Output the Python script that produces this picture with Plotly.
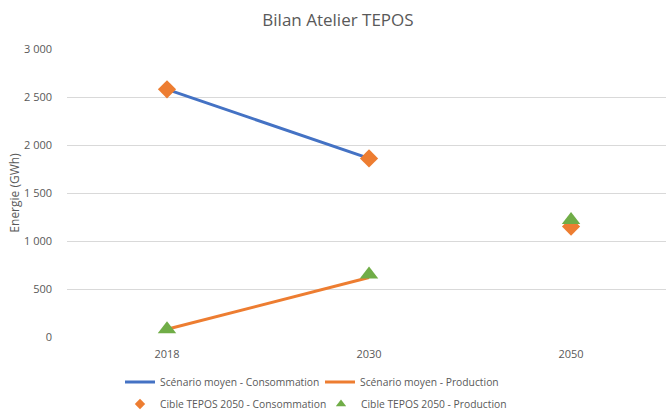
import plotly.graph_objects as go

years = ["2018", "2030", "2050"]
scen_conso = [2580, 1860, None]
scen_prod = [80, 620, None]
cible_conso = [2580, 1860, 1150]
cible_prod = [80, 650, 1220]

BLUE = "#4472C4"
ORANGE = "#ED7D31"
GREEN = "#70AD47"
GRAY = "#595959"
FONT = "Open Sans, Liberation Sans, sans-serif"

fig = go.Figure()
fig.add_trace(go.Scatter(x=years, y=scen_conso, mode="lines", name="Scénario moyen - Consommation",
                         line=dict(color=BLUE, width=3), legend="legend"))
fig.add_trace(go.Scatter(x=years, y=scen_prod, mode="lines", name="Scénario moyen - Production",
                         line=dict(color=ORANGE, width=3), legend="legend2"))
fig.add_trace(go.Scatter(x=years, y=cible_conso, mode="markers", name="Cible TEPOS 2050 - Consommation",
                         marker=dict(symbol="diamond", color=ORANGE, size=14), showlegend=False,
                         legendgroup="c"))
fig.add_trace(go.Scatter(x=years, y=cible_prod, mode="markers", name="Cible TEPOS 2050 - Production",
                         marker=dict(symbol="triangle-up", color=GREEN, size=16), showlegend=False,
                         legendgroup="p"))
# legend-only entries with Excel-like small symbols
fig.add_trace(go.Scatter(x=[None], y=[None], mode="markers", name="Cible TEPOS 2050 - Consommation",
                         marker=dict(symbol="diamond", color=ORANGE, size=8), legend="legend3",
                         legendgroup="c"))
fig.add_trace(go.Scatter(x=[None], y=[None], mode="markers", name="Cible TEPOS 2050 - Production",
                         marker=dict(symbol="triangle-up", color=GREEN, size=9), legend="legend4",
                         legendgroup="p"))

legend_common = dict(orientation="h", xanchor="left", yanchor="middle", bgcolor="rgba(0,0,0,0)",
                     font=dict(size=10.3, color=GRAY, family=FONT),
                     itemsizing="trace", xref="container", yref="container")

fig.update_layout(
    width=666, height=410,
    paper_bgcolor="white", plot_bgcolor="white",
    margin=dict(l=67, r=0, t=49, b=73, autoexpand=False),
    separators=", ",
    title=dict(text="Bilan Atelier TEPOS", x=338 / 666, xanchor="center", xref="container", y=1 - 20 / 410,
               yanchor="middle", font=dict(size=17, color=GRAY, family=FONT)),
    font=dict(family=FONT, color=GRAY, size=11),
    xaxis=dict(type="category", range=[-0.495, 2.47], showgrid=False, showline=False, ticks="",
               tickfont=dict(size=11, color=GRAY), zeroline=False, automargin=False,
               ticklabelstandoff=9),
    yaxis=dict(range=[0, 3000], dtick=500, tickformat=",d", showgrid=True, gridcolor="#D9D9D9", gridwidth=1,
               zeroline=False, showline=False, ticks="", tickfont=dict(size=11, color=GRAY),
               ticklabelstandoff=14, automargin=False,
               title=dict(text="Energie (GWh)", font=dict(size=12, color=GRAY), standoff=1)),
    legend=dict(x=120 / 666, y=1 - 382 / 410, **legend_common),
    legend2=dict(x=320 / 666, y=1 - 382 / 410, **legend_common),
    legend3=dict(x=120 / 666, y=1 - 404 / 410, **legend_common),
    legend4=dict(x=321 / 666, y=1 - 404 / 410, **legend_common),
)

fig.write_html("out.html", config={"displayModeBar": False},
               post_script="document.body.style.margin='0';document.body.style.overflow='hidden';")
